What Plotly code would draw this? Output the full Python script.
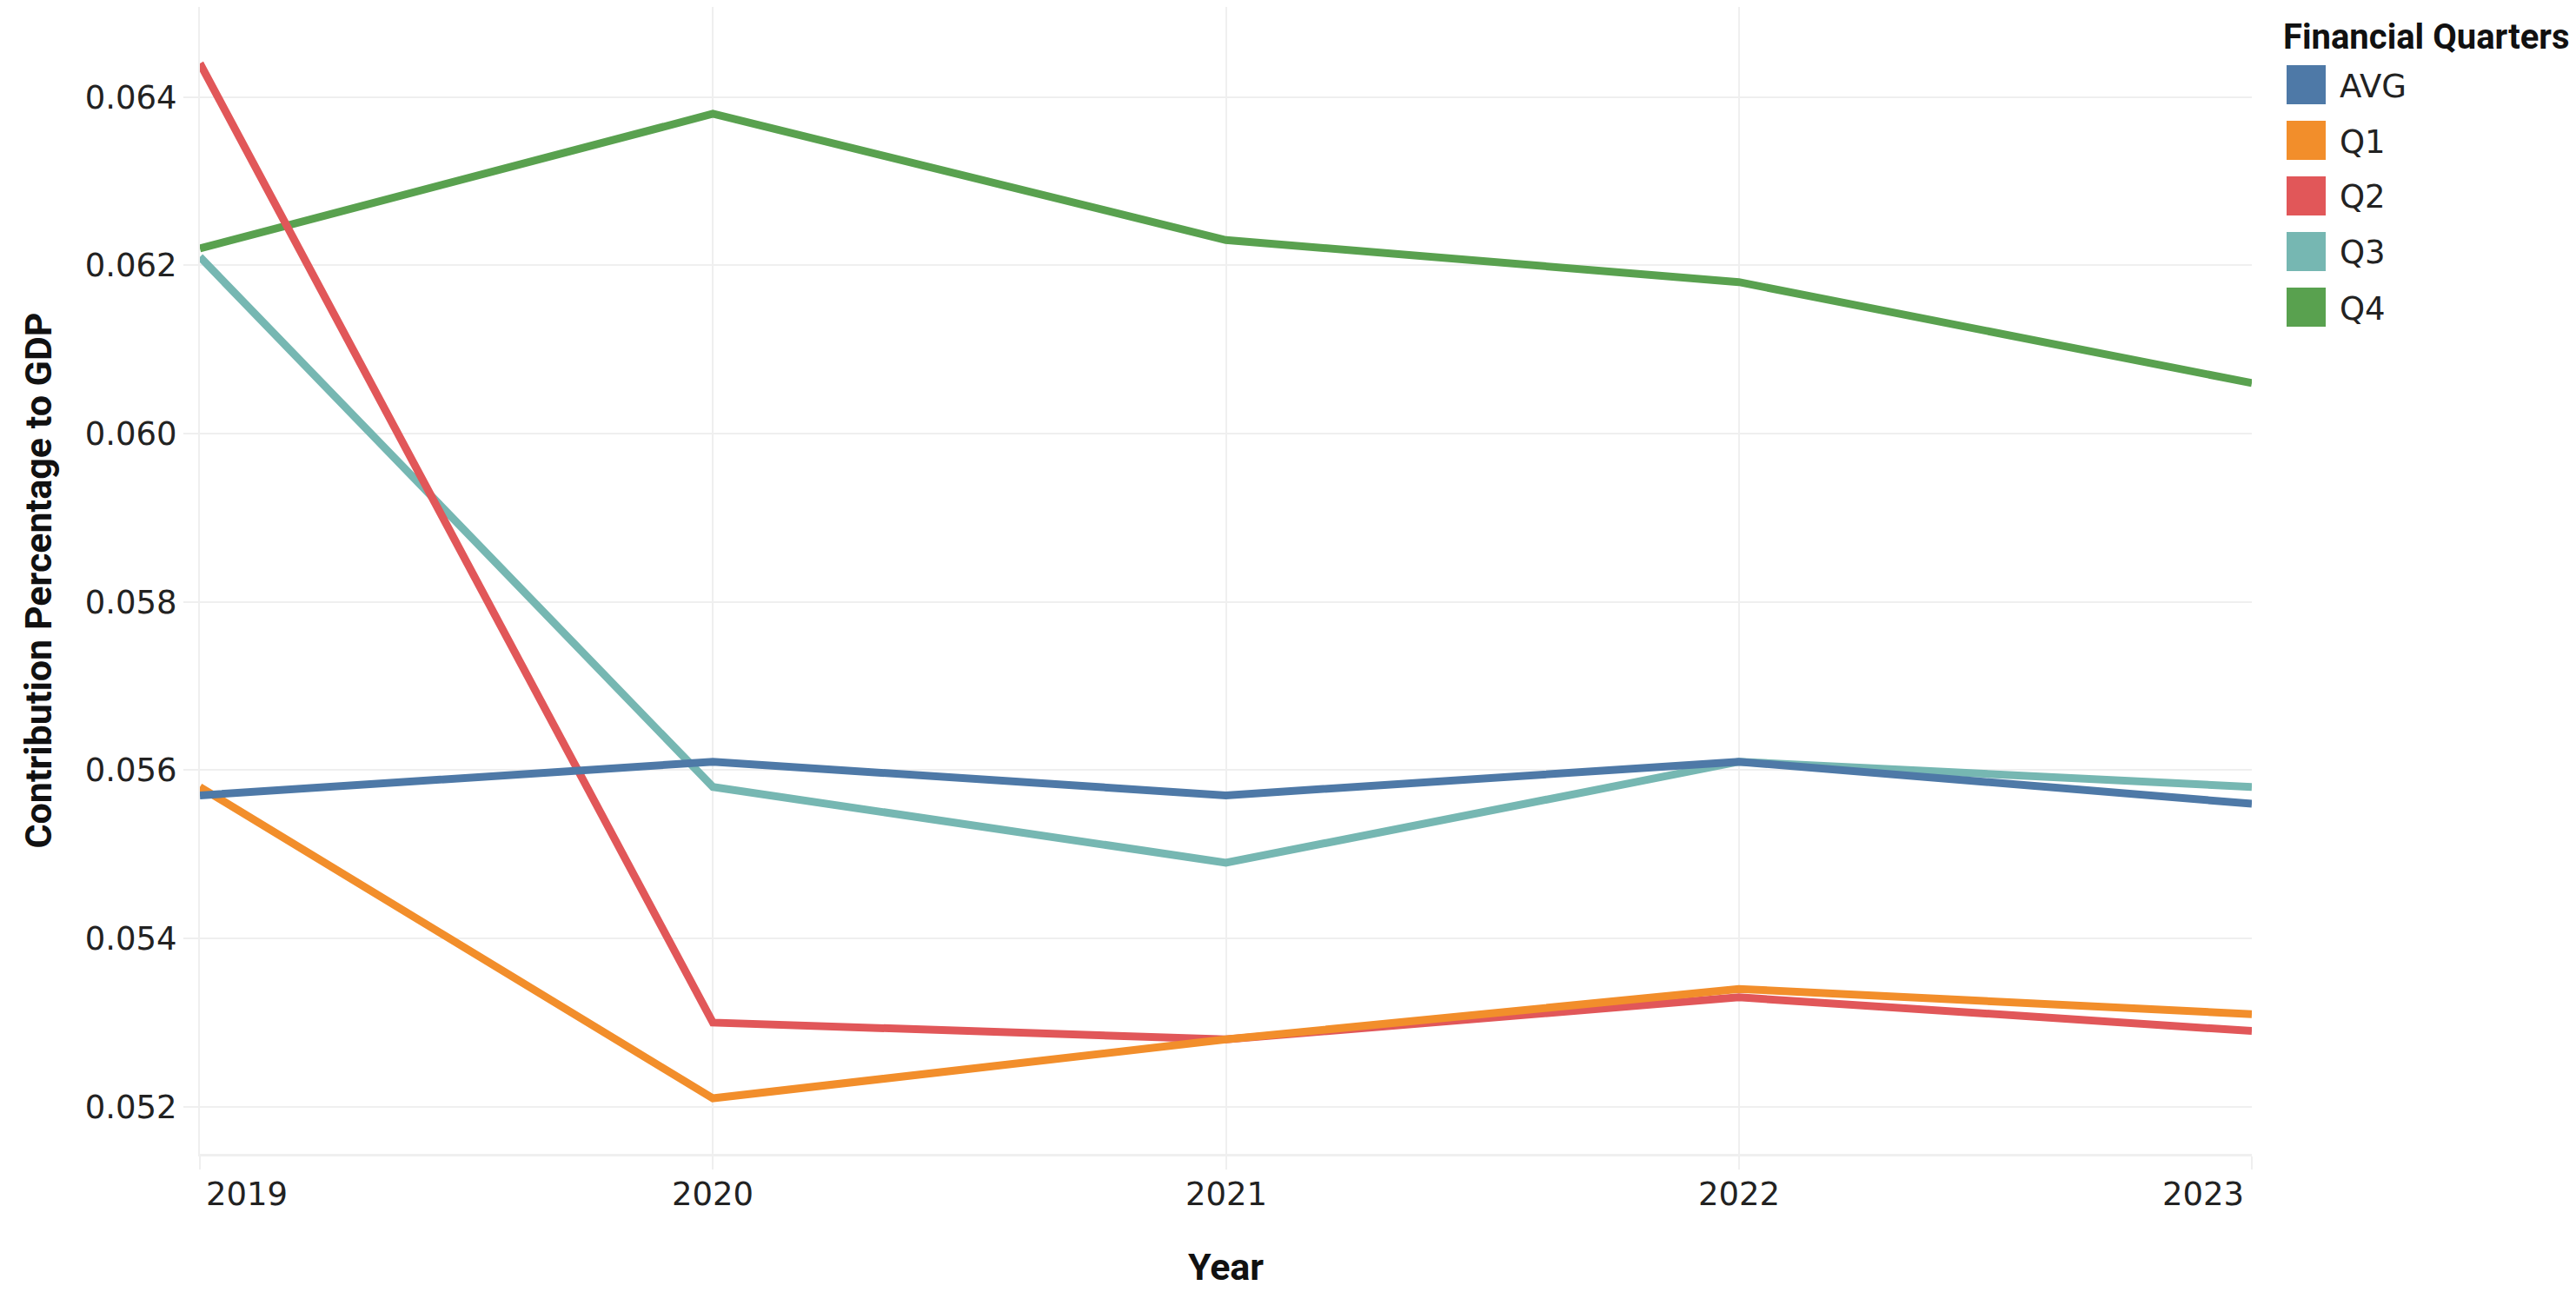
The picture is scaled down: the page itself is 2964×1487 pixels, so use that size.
import plotly.graph_objects as go

# ---------------- data ----------------
years = [2019, 2020, 2021, 2022, 2023]
series_names = ["AVG", "Q1", "Q2", "Q3", "Q4"]
avg = [0.0557, 0.0561, 0.0557, 0.0561, 0.0556]
q1 = [0.0558, 0.0521, 0.0528, 0.0534, 0.0531]
q2 = [0.0644, 0.0530, 0.0528, 0.0533, 0.0529]
q3 = [0.0621, 0.0558, 0.0549, 0.0561, 0.0558]
q4 = [0.0622, 0.0638, 0.0623, 0.0618, 0.0606]
y_ticks = [0.052, 0.054, 0.056, 0.058, 0.060, 0.062, 0.064]

colors = {"AVG": "#4e79a7", "Q1": "#f28e2b", "Q2": "#e15759", "Q3": "#76b7b2", "Q4": "#59a14f"}
values = {"AVG": avg, "Q1": q1, "Q2": q2, "Q3": q3, "Q4": q4}

# ---------------- layout geometry ----------------
W, H = 2964, 1487
PL, PR, PT, PB = 222, 2583, 0, 1320   # plot area in pixels


def xp(px):
    return (px - PL) / (PR - PL)


def yp(py):
    return (PB - py) / (PB - PT)


GRID = "#efefef"
TICK_FONT = dict(family="DejaVu Sans", size=37, color="#222222")
TITLE_FONT = dict(family="Roboto", size=43, color="#111111", weight="bold")

fig = go.Figure()

# draw in reverse so AVG is on top (as in the reference)
for name in reversed(series_names):
    fig.add_trace(go.Scatter(
        x=years, y=values[name], name=name, mode="lines",
        line=dict(color=colors[name], width=9),
        showlegend=False,
    ))

# year tick labels (edge labels aligned to plot edges, like the reference)
annotations = []
for i, yr in enumerate(years):
    anchor = "left" if i == 0 else ("right" if i == len(years) - 1 else "center")
    annotations.append(dict(
        x=yr, xref="x", y=yp(1366), yref="paper", text=str(yr), showarrow=False,
        xanchor=anchor, yanchor="middle", font=TICK_FONT,
        xshift=5 if anchor == "left" else (-7 if anchor == "right" else 0),
    ))

# manual legend (large square swatches)
shapes = []
annotations.append(dict(
    x=xp(2617), xref="paper", y=yp(35), yref="paper", text="<b>Financial Quarters</b>",
    showarrow=False, xanchor="left", yanchor="middle",
    font=dict(family="Roboto", size=40, color="#111111"),
))
for i, name in enumerate(series_names):
    top = 67 + 64 * i
    shapes.append(dict(
        type="rect", xref="paper", yref="paper",
        x0=xp(2623), x1=xp(2668), y0=yp(top + 45), y1=yp(top),
        fillcolor=colors[name], line=dict(width=0),
    ))
    annotations.append(dict(
        x=xp(2682), xref="paper", y=yp(top + 24), yref="paper", text=name,
        showarrow=False, xanchor="left", yanchor="middle", font=TICK_FONT,
    ))

fig.update_layout(
    width=W, height=H,
    margin=dict(l=PL, r=W - PR, t=PT, b=H - PB, pad=0),
    paper_bgcolor="white", plot_bgcolor="white",
    showlegend=False,
    annotations=annotations,
    shapes=shapes,
    xaxis=dict(
        range=[years[0], years[-1]], tickvals=years, showticklabels=False,
        showgrid=True, gridcolor=GRID, gridwidth=2,
        ticks="outside", ticklen=15, tickcolor=GRID, tickwidth=2,
        showline=True, linecolor=GRID, linewidth=3,
        zeroline=False,
        title=dict(text="<b>Year</b>", font=TITLE_FONT, standoff=98),
    ),
    yaxis=dict(
        range=[0.05144, 0.06507], tickvals=y_ticks, tickformat=".3f",
        showgrid=True, gridcolor=GRID, gridwidth=2,
        ticks="outside", ticklen=17, tickcolor=GRID, tickwidth=2,
        showline=True, linecolor=GRID, linewidth=2,
        zeroline=False, tickfont=TICK_FONT,
        title=dict(text="<b>Contribution Percentage to GDP</b>", font=TITLE_FONT, standoff=25),
    ),
)

fig.write_html("out.html")
